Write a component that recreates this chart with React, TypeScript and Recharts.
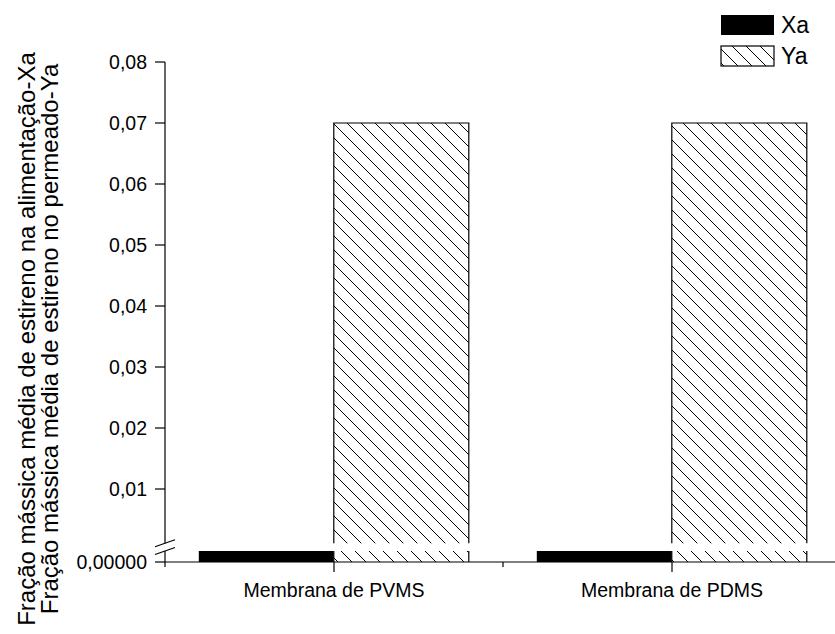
import React from "react";
import { BarChart, Bar, XAxis, YAxis } from "recharts";

// ---- data ----
const CATEGORIES = ["Membrana de PVMS", "Membrana de PDMS"];
const SERIES_NAMES = ["Xa", "Ya"];
const XA_VALUES = [0.0003, 0.0003];
const YA_VALUES = [0.07, 0.07];
const UPPER_TICK_VALUES = [0.01, 0.02, 0.03, 0.04, 0.05, 0.06, 0.07, 0.08];
const UPPER_TICK_LABELS = ["0,01", "0,02", "0,03", "0,04", "0,05", "0,06", "0,07", "0,08"];
const LOWER_TICK_VALUES = [0];
const LOWER_TICK_LABELS = ["0,00000"];
const Y_TITLE_LINES = [
  "Fração mássica média de estireno na alimentação-Xa",
  "Fração mássica média de estireno no permeado-Ya",
];

// ---- broken value axis ----
// lower segment [0, LOW_MAX] and upper segment [UP_MIN, 0.08], drawn on one
// linear "display unit" axis with a gap between them.
const LOW_MAX = 0.00002;
const UP_MIN = 0.0011;
const LOW_SPAN = 11;
const UP_BASE = 12;
const UP_PER = 6100;
const upperUnits = (v: number) => UP_BASE + v * UP_PER;
const lowerUnits = (v: number) => (Math.min(v, LOW_MAX) / LOW_MAX) * LOW_SPAN;
const U_MAX = upperUnits(0.08);
const GAP_UNITS = upperUnits(UP_MIN) - LOW_SPAN;
const BREAK_UNITS = LOW_SPAN + GAP_UNITS / 2;

const pieces = (v: number) => ({
  low: lowerUnits(v),
  gap: v > UP_MIN ? GAP_UNITS : 0,
  high: v > UP_MIN ? upperUnits(v) - upperUnits(UP_MIN) : 0,
});

const rows = CATEGORIES.map((name, i) => {
  const xa = pieces(XA_VALUES[i]);
  const ya = pieces(YA_VALUES[i]);
  return {
    name,
    xaLow: xa.low,
    xaGap: xa.gap,
    xaHigh: xa.high,
    yaLow: ya.low,
    yaGap: ya.gap,
    yaHigh: ya.high,
  };
});

type TickEntry = { u: number; label: string; kind: "label" | "break" };
const Y_TICK_ENTRIES: TickEntry[] = [
  ...LOWER_TICK_VALUES.map((v, i) => ({ u: lowerUnits(v), label: LOWER_TICK_LABELS[i], kind: "label" as const })),
  { u: BREAK_UNITS, label: "", kind: "break" as const },
  ...UPPER_TICK_VALUES.map((v, i) => ({ u: upperUnits(v), label: UPPER_TICK_LABELS[i], kind: "label" as const })),
];

// ---- layout ----
const FONT = "'Liberation Sans', Arial, Helvetica, sans-serif";
const CHART_W = 845;
const CHART_H = 634;
const MARGIN = { top: 62, right: 4, bottom: 32, left: 0 };
const Y_AXIS_W = 165;
const X_AXIS_H = 40;
const PLOT_W = CHART_W - MARGIN.left - MARGIN.right - Y_AXIS_W;
const PLOT_H = CHART_H - MARGIN.top - MARGIN.bottom - X_AXIS_H;
const PX_PER_UNIT = PLOT_H / U_MAX;
const Y_TICK_SIZE = 10;
const Y_TICK_MARGIN = 8;
const X_TICK_SIZE = 10;
const X_TICK_MARGIN = 10;
const HATCH = 14;
const TICK_FONT = 19.5;

function HatchPattern({ id }: { id: string }) {
  return (
    <pattern id={id} patternUnits="userSpaceOnUse" width={HATCH} height={HATCH}>
      <rect width={HATCH} height={HATCH} fill="#fff" />
      <path
        d={`M0,0 L${HATCH},${HATCH} M-1,${HATCH - 1} L1,${HATCH + 1} M${HATCH - 1},-1 L${HATCH + 1},1`}
        stroke="#000"
        strokeWidth={1}
      />
    </pattern>
  );
}

function SolidPiece(props: any) {
  const { x, y, width, height } = props;
  if (!height || height <= 0) return null;
  return <rect x={x} y={y} width={width} height={height} fill="#000" />;
}

function HatchedPiece(props: any) {
  const raw = React.useId();
  const id = "hatch" + raw.replace(/[^a-zA-Z0-9]/g, "");
  const { x, y, width, height, withTop } = props;
  if (!height || height <= 0) return null;
  const edge = withTop
    ? `M${x},${y + height} L${x},${y} L${x + width},${y} L${x + width},${y + height}`
    : `M${x},${y} L${x},${y + height} M${x + width},${y} L${x + width},${y + height}`;
  return (
    <g>
      <defs>
        <HatchPattern id={id} />
      </defs>
      <rect x={x} y={y} width={width} height={height} fill={`url(#${id})`} />
      <path d={edge} fill="none" stroke="#000" strokeWidth={1.2} />
    </g>
  );
}

function YTick(props: any) {
  const { x, y, payload } = props;
  const entry = Y_TICK_ENTRIES.find((e) => Math.abs(e.u - payload.value) < 1e-6);
  if (!entry) return null;
  const axisX = x + Y_TICK_SIZE + Y_TICK_MARGIN;
  if (entry.kind === "break") {
    const half = (GAP_UNITS * PX_PER_UNIT) / 2;
    return (
      <g>
        <rect x={axisX - 3} y={y - half} width={6} height={half * 2} fill="#fff" />
        <line x1={axisX - 10} y1={y - half + 3.5} x2={axisX + 10} y2={y - half - 3.5} stroke="#000" strokeWidth={1.2} />
        <line x1={axisX - 10} y1={y + half + 3.5} x2={axisX + 10} y2={y + half - 3.5} stroke="#000" strokeWidth={1.2} />
      </g>
    );
  }
  return (
    <g>
      <line x1={axisX - Y_TICK_SIZE} y1={y} x2={axisX} y2={y} stroke="#000" strokeWidth={1.2} />
      <text
        x={x}
        y={y}
        textAnchor="end"
        dominantBaseline="central"
        fontFamily={FONT}
        fontSize={TICK_FONT}
        fill="#000"
      >
        {entry.label}
      </text>
    </g>
  );
}

function XTick(props: any) {
  const { x, y, payload } = props;
  const axisY = y - X_TICK_SIZE - X_TICK_MARGIN;
  const band = PLOT_W / CATEGORIES.length;
  const i = CATEGORIES.indexOf(payload.value);
  const minors = [x - band / 2];
  if (i === CATEGORIES.length - 1) minors.push(x + band / 2);
  return (
    <g>
      <line x1={x} y1={axisY} x2={x} y2={axisY + X_TICK_SIZE} stroke="#000" strokeWidth={1.2} />
      {minors.map((mx, k) => (
        <line key={k} x1={mx} y1={axisY} x2={mx} y2={axisY + 5} stroke="#000" strokeWidth={1.2} />
      ))}
      <text x={x} y={axisY + 35} textAnchor="middle" fontFamily={FONT} fontSize={TICK_FONT} fill="#000">
        {payload.value}
      </text>
    </g>
  );
}

function Overlay() {
  return (
    <svg
      width={835}
      height={634}
      style={{ position: "absolute", left: 0, top: 0, pointerEvents: "none" }}
    >
      <defs>
        <HatchPattern id="legendHatch" />
      </defs>
      {Y_TITLE_LINES.map((line, i) => (
        <text
          key={i}
          x={35 + i * 23}
          y={339}
          transform={`rotate(-90 ${35 + i * 23} 339)`}
          textAnchor="middle"
          fontFamily={FONT}
          fontSize={24}
          fill="#000"
        >
          {line}
        </text>
      ))}
      {SERIES_NAMES.map((name, i) => {
        const top = 15 + i * 31;
        return (
          <g key={name}>
            {i === 0 ? (
              <rect x={721} y={top} width={53} height={20} fill="#000" />
            ) : (
              <rect x={721} y={top} width={53} height={20} fill="url(#legendHatch)" stroke="#000" strokeWidth={1.2} />
            )}
            <text
              x={781}
              y={top + 10}
              dominantBaseline="central"
              fontFamily={FONT}
              fontSize={23}
              fill="#000"
            >
              {name}
            </text>
          </g>
        );
      })}
    </svg>
  );
}

export default function App() {
  return (
    <div
      style={{
        position: "absolute",
        left: 0,
        top: 0,
        width: 835,
        height: 634,
        overflow: "hidden",
        background: "#fff",
        fontFamily: FONT,
      }}
    >
      <BarChart
        width={CHART_W}
        height={CHART_H}
        data={rows}
        margin={MARGIN}
        barGap={0}
        barCategoryGap="10%"
      >
        <XAxis
          dataKey="name"
          height={X_AXIS_H}
          interval={0}
          tickLine={false}
          tickSize={X_TICK_SIZE}
          tickMargin={X_TICK_MARGIN}
          axisLine={{ stroke: "#000", strokeWidth: 1.2 }}
          tick={(p: any) => <XTick {...p} />}
        />
        <YAxis
          type="number"
          domain={[0, U_MAX]}
          ticks={Y_TICK_ENTRIES.map((e) => e.u)}
          interval={0}
          width={Y_AXIS_W}
          tickLine={false}
          tickSize={Y_TICK_SIZE}
          tickMargin={Y_TICK_MARGIN}
          axisLine={{ stroke: "#000", strokeWidth: 1.2 }}
          allowDataOverflow
          tick={(p: any) => <YTick {...p} />}
        />
        <Bar dataKey="xaLow" stackId="xa" isAnimationActive={false} shape={(p: any) => <SolidPiece {...p} />} />
        <Bar dataKey="xaGap" stackId="xa" isAnimationActive={false} shape={() => <g />} />
        <Bar dataKey="xaHigh" stackId="xa" isAnimationActive={false} shape={(p: any) => <SolidPiece {...p} />} />
        <Bar dataKey="yaLow" stackId="ya" isAnimationActive={false} shape={(p: any) => <HatchedPiece {...p} />} />
        <Bar dataKey="yaGap" stackId="ya" isAnimationActive={false} shape={() => <g />} />
        <Bar
          dataKey="yaHigh"
          stackId="ya"
          isAnimationActive={false}
          shape={(p: any) => <HatchedPiece {...p} withTop />}
        />
      </BarChart>
      <Overlay />
    </div>
  );
}
